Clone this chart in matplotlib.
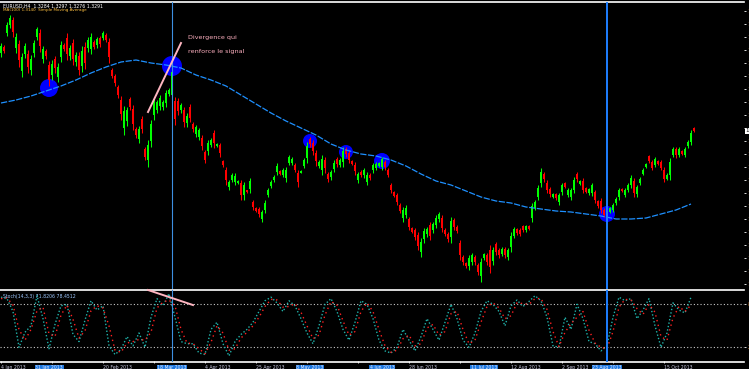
import numpy as np
import matplotlib.pyplot as plt

# candles, price in chart units (higher = higher price)
opens = [247, 253, 267, 275, 280, 252, 256, 229, 246, 246,
         230, 247, 263, 267, 241, 249, 235, 225, 241, 223,
         243, 255, 262, 244, 257, 238, 244, 234, 253, 252,
         251, 258, 255, 262, 262, 265, 258, 230, 224, 213,
         200, 172, 179, 201, 191, 171, 161, 181, 151, 140,
         159, 185, 190, 194, 193, 197, 206, 205, 199, 199,
         190, 190, 177, 193, 176, 166, 163, 162, 148, 149,
         155, 167, 154, 155, 139, 130, 113, 120, 118, 117,
         117, 105, 110, 111, 98, 92, 91, 81, 90, 105,
         114, 120, 128, 129, 125, 122, 137, 137, 135, 127,
         127, 134, 142, 161, 157, 147, 134, 130, 140, 126,
         123, 131, 141, 135, 138, 151, 147, 139, 135, 120,
         128, 125, 118, 125, 130, 132, 134, 133, 138, 130,
         115, 108, 105, 95, 82, 85, 81, 72, 70, 65,
         48, 61, 66, 75, 70, 75, 81, 82, 70, 66,
         63, 80, 73, 57, 43, 37, 34, 38, 43, 35,
         24, 42, 45, 50, 39, 56, 50, 46, 51, 43,
         53, 64, 71, 70, 74, 70, 74, 82, 92, 103,
         117, 126, 117, 111, 103, 106, 98, 108, 117, 105,
         103, 110, 126, 116, 119, 112, 107, 107, 108, 99,
         99, 90, 89, 88, 90, 97, 103, 111, 105, 110,
         115, 119, 106, 117, 126, 133, 144, 138, 135, 139,
         138, 130, 121, 125, 145, 151, 145, 149, 145, 154,
         158, 172]
highs = [257, 255, 278, 285, 283, 267, 260, 247, 257, 250,
         245, 260, 273, 271, 254, 251, 239, 240, 244, 237,
         259, 257, 267, 255, 261, 248, 248, 254, 258, 263,
         267, 260, 263, 264, 269, 267, 262, 232, 226, 215,
         204, 194, 193, 203, 195, 173, 174, 184, 153, 160,
         180, 203, 200, 205, 200, 210, 212, 233, 203, 202,
         197, 193, 187, 196, 178, 175, 172, 165, 150, 160,
         162, 170, 157, 157, 140, 133, 120, 127, 127, 120,
         120, 118, 110, 122, 100, 93, 93, 90, 100, 112,
         120, 125, 137, 130, 132, 133, 145, 143, 137, 130,
         130, 142, 158, 163, 160, 150, 140, 145, 143, 128,
         130, 140, 143, 142, 153, 153, 150, 140, 138, 128,
         130, 132, 128, 127, 137, 138, 138, 143, 140, 132,
         117, 109, 107, 97, 93, 95, 83, 73, 72, 68,
         62, 72, 73, 78, 78, 85, 88, 85, 72, 68,
         83, 82, 75, 60, 45, 38, 45, 47, 45, 37,
         42, 47, 47, 55, 53, 58, 52, 53, 53, 52,
         68, 73, 72, 72, 75, 75, 75, 97, 100, 115,
         132, 128, 120, 113, 107, 107, 107, 117, 118, 112,
         112, 123, 128, 120, 122, 113, 112, 117, 110, 100,
         102, 92, 90, 93, 97, 103, 112, 112, 112, 117,
         125, 122, 115, 123, 132, 137, 145, 140, 143, 140,
         140, 133, 127, 142, 153, 153, 153, 150, 153, 160,
         170, 173]
lows = [243, 247, 264, 272, 263, 247, 233, 223, 242, 227,
        225, 243, 260, 248, 237, 241, 214, 220, 227, 218,
        238, 249, 240, 240, 235, 234, 225, 228, 231, 248,
        246, 251, 252, 253, 260, 258, 237, 222, 214, 202,
        180, 165, 174, 190, 170, 162, 157, 167, 140, 133,
        153, 180, 187, 190, 190, 193, 204, 197, 175, 185,
        187, 173, 173, 178, 168, 163, 160, 150, 137, 145,
        153, 152, 153, 143, 133, 115, 110, 118, 115, 116,
        100, 100, 107, 107, 90, 88, 83, 78, 87, 103,
        112, 118, 125, 125, 123, 118, 135, 135, 128, 113,
        127, 132, 137, 153, 145, 134, 132, 125, 127, 118,
        120, 128, 133, 133, 133, 143, 137, 135, 125, 117,
        123, 122, 115, 120, 127, 130, 133, 130, 130, 123,
        107, 103, 95, 87, 78, 82, 70, 67, 60, 50,
        43, 57, 63, 60, 67, 72, 78, 68, 64, 58,
        57, 70, 67, 40, 35, 32, 30, 35, 35, 25,
        18, 40, 35, 27, 35, 45, 42, 44, 42, 40,
        48, 62, 65, 64, 68, 68, 70, 78, 90, 100,
        113, 118, 107, 103, 102, 100, 95, 105, 112, 103,
        100, 107, 118, 115, 107, 107, 105, 104, 97, 92,
        87, 83, 82, 87, 88, 95, 100, 108, 103, 108,
        112, 103, 103, 115, 125, 132, 137, 130, 133, 135,
        130, 118, 120, 120, 143, 142, 143, 145, 143, 152,
        155, 168]
closes = [254, 249, 275, 282, 268, 263, 240, 243, 254, 233,
          241, 257, 271, 254, 251, 244, 220, 236, 232, 233,
          255, 251, 246, 252, 241, 245, 230, 249, 237, 260,
          263, 253, 261, 256, 267, 260, 243, 224, 217, 205,
          186, 189, 190, 193, 176, 165, 171, 171, 143, 155,
          176, 199, 198, 202, 198, 207, 210, 228, 181, 189,
          195, 178, 184, 182, 171, 173, 170, 154, 140, 157,
          160, 157, 156, 147, 135, 120, 118, 125, 124, 119,
          105, 115, 108, 119, 93, 89, 86, 88, 97, 110,
          118, 123, 134, 126, 130, 130, 143, 141, 130, 118,
          129, 140, 154, 156, 149, 139, 138, 141, 132, 121,
          128, 137, 136, 140, 149, 146, 140, 136, 129, 126,
          125, 130, 125, 122, 135, 136, 137, 141, 133, 125,
          110, 104, 98, 89, 90, 92, 73, 68, 63, 54,
          58, 69, 71, 64, 76, 82, 86, 72, 66, 61,
          79, 73, 69, 45, 38, 34, 42, 45, 38, 28,
          38, 46, 38, 33, 50, 48, 45, 51, 45, 50,
          64, 71, 67, 66, 70, 74, 71, 94, 98, 112,
          128, 121, 110, 106, 106, 102, 105, 115, 113, 110,
          110, 120, 121, 119, 110, 108, 111, 115, 100, 94,
          90, 85, 84, 92, 95, 101, 110, 109, 110, 115,
          122, 107, 113, 121, 130, 136, 139, 132, 141, 136,
          132, 121, 125, 138, 151, 145, 151, 146, 151, 158,
          167, 169]

# moving average, one value every 5 bars
ma_values = [197, 200, 204, 209, 214, 220, 227, 233, 238, 240,
             237, 235, 232, 225, 220, 214, 205, 196, 187, 179,
             172, 165, 156, 150, 146, 144, 140, 134, 126, 119,
             115, 109, 103, 99, 97, 93, 91, 89, 88, 86,
             84, 81, 81, 82, 86, 90, 96]

# stochastic, one value every 2 bars
stoch_main = [90, 88, 70, 20, 41, 50, 92, 60, 18, 52, 78, 80, 38, 28, 58, 85, 72, 78, 22, 10,
              17, 35, 22, 40, 20, 62, 88, 78, 95, 62, 28, 25, 25, 12, 10, 45, 55, 25, 8, 28,
              38, 45, 55, 70, 85, 90, 82, 70, 85, 78, 60, 40, 25, 50, 80, 88, 70, 45, 30, 55,
              85, 80, 60, 30, 15, 12, 20, 45, 30, 15, 35, 60, 45, 30, 55, 80, 60, 30, 20, 40,
              70, 85, 80, 70, 50, 78, 86, 77, 84, 92, 85, 62, 22, 20, 62, 45, 80, 60, 28, 25,
              15, 22, 62, 90, 85, 88, 60, 72, 88, 50, 20, 40, 82, 72, 68, 90]
stoch_signal = [88, 89, 79, 45, 30, 45, 71, 76, 39, 35, 65, 79, 59, 33, 43, 71, 78, 75, 50, 16,
                13, 26, 28, 31, 30, 41, 75, 83, 86, 78, 45, 26, 25, 18, 11, 27, 50, 40, 16, 18,
                33, 41, 50, 62, 77, 87, 86, 76, 77, 81, 69, 50, 32, 37, 65, 84, 79, 57, 37, 42,
                70, 82, 70, 45, 22, 13, 16, 32, 37, 22, 25, 47, 52, 37, 42, 67, 70, 45, 25, 30,
                55, 77, 82, 75, 60, 64, 82, 81, 80, 88, 88, 73, 42, 21, 41, 53, 62, 70, 44, 26,
                20, 18, 42, 76, 87, 86, 74, 66, 80, 69, 35, 30, 61, 77, 70, 79]

# objects drawn on the chart
touch_bars = [16, 57, 103, 115, 127, 202]
touch_prices = [212, 234, 159, 148, 139, 86]
vline_bars = [57, 202]
div_bars = [49, 60]
div_prices = [188, 257]
div_stoch_bars = [49, 64]
div_stoch = [100, 79]
note_lines = ["Divergence qui", "renforce le signal"]

date_labels = ["4 Jan 2013", "29 Jan 2013", "20 Feb 2013", "13 Mar 2013", "4 Apr 2013",
               "25 Apr 2013", "17 May 2013", "7 Jun 2013", "28 Jun 2013", "22 Jul 2013",
               "12 Aug 2013", "2 Sep 2013", "24 Sep 2013", "15 Oct 2013"]
box_bars = [16, 57, 103, 127, 161, 202]
box_labels = ["31 Jan 2013", "18 Mar 2013", "8 May 2013", "4 Jun 2013", "11 Jul 2013", "23 Aug 2013"]

n = len(closes)
idx = np.arange(n)
o = np.array(opens)
c = np.array(closes)
up = c >= o
col = np.where(up, '#00ff00', '#ff0000')

fig = plt.figure(figsize=(7.49, 3.69), dpi=100, facecolor='black')
ax = fig.add_axes([0.0, 80 / 369, 744 / 749, 287 / 369], facecolor='black')
ax2 = fig.add_axes([0.0, 7 / 369, 744 / 749, 72 / 369], facecolor='black')

# objects behind candles
r_px = [9, 10, 7, 7, 8, 8]
ax.scatter(touch_bars, touch_prices, s=[(2 * r * 0.72) ** 2 for r in r_px],
           color='#0000ff', edgecolors='none', zorder=1)

ax.vlines(idx, lows, highs, colors=col, lw=0.75, zorder=2)
ax.bar(idx, np.abs(c - o), bottom=np.minimum(c, o), width=0.6, color=col, lw=0, zorder=2)

ax.plot(np.arange(0, n, 5), ma_values, color='#1e90ff', lw=0.9, ls=(0, (5, 1.2)), zorder=3)

for b in vline_bars:
    lc = '#3d8fe0' if b < 100 else '#1e7fff'
    lw = 0.8 if b < 100 else 1.4
    ax.axvline(b, color=lc, lw=lw, zorder=4)
    ax2.axvline(b, color=lc, lw=lw, zorder=4)

ax.plot(div_bars, div_prices, color='#ffb6c1', lw=1.4, zorder=5)
ax.text(62.3, 263, note_lines[0], color='#ffb0c0', fontsize=4.6, va='center', ha='left')
ax.text(62.3, 249, note_lines[1], color='#ffb0c0', fontsize=4.6, va='center', ha='left')

ax.text(0.004, 0.995, "EURUSD,H4  1.3284 1.3297 1.3276 1.3291", transform=ax.transAxes,
        color='white', fontsize=3.3, va='top', ha='left')
ax.text(0.004, 0.978, "MA(100) 1.3140  Simple Moving Average", transform=ax.transAxes,
        color='#ffc040', fontsize=3.0, va='top', ha='left')

ax.set_xlim(-1 / 3, 743 / 3)
ax.set_ylim(11, 298)
ax.set_xticks([])
ax.yaxis.tick_right()
ticks = np.arange(289, 10, -13)
ax.set_yticks(ticks)
# the current price box takes the place of the nearest level label
ax.set_yticklabels(['' if abs(p - closes[-1]) < 7 else f"{1.2700 + p * 0.0003:.4f}" for p in ticks])
ax.tick_params(axis='y', colors='white', labelcolor='#d08030', labelsize=4, length=1.5, pad=1, width=0.6)
for s in ['left', 'right', 'bottom']:
    ax.spines[s].set_visible(False)
ax.spines['top'].set_color('white')
ax.spines['top'].set_linewidth(1.2)

ax.annotate(f"{1.2700 + closes[-1] * 0.0003:.4f}", xy=(1.0, closes[-1]),
            xycoords=('axes fraction', 'data'), fontsize=4, color='black', va='center', ha='left',
            xytext=(1, 0), textcoords='offset points',
            bbox=dict(boxstyle='square,pad=0.1', fc='white', ec='none'), annotation_clip=False)

# stochastic panel
sx = np.arange(0, n, 2)
ax2.plot(sx, stoch_main, color='#20b2aa', lw=1.0, ls=(0, (1, 1.5)), zorder=3)
ax2.plot(sx, stoch_signal, color='#ff2020', lw=1.0, ls=(0, (1, 2.5)), zorder=3)
for lv in [20, 80]:
    ax2.axhline(lv, color='#c8c8c8', lw=0.8, ls=(0, (1, 2)), zorder=2)
ax2.plot(div_stoch_bars, div_stoch, color='#ffb6c1', lw=1.4, zorder=5, clip_on=False)
ax2.text(0.004, 0.95, "Stoch(14,3,3) 71.8206 78.4512", transform=ax2.transAxes,
         color='#9ec8ff', fontsize=3.3, va='top', ha='left')

ax2.set_xlim(-1 / 3, 743 / 3)
ax2.set_ylim(-0.5, 100)
ax2.yaxis.tick_right()
ax2.set_yticks([20, 80])
ax2.set_yticklabels(["20.00", "80.00"])
ax2.tick_params(axis='y', colors='white', labelcolor='#d08030', labelsize=4, length=1.5, pad=1, width=0.6)

# date ticks every 17 bars; the label is left out where a highlighted object time sits on it
ticks_x = np.arange(0, n, 17)
ax2.set_xticks(ticks_x)
tick_text = []
for t, d in zip(ticks_x, date_labels):
    clash = any(-5 < b - t < 12 for b in box_bars)
    tick_text.append('' if clash else d)
ax2.set_xticklabels(tick_text)
ax2.tick_params(axis='x', colors='white', labelcolor='#c8c8e0', labelsize=3.3, length=2,
                pad=1, width=0.6, direction='inout')
for lbl in ax2.get_xticklabels():
    lbl.set_horizontalalignment('left')
for s in ['left', 'right']:
    ax2.spines[s].set_visible(False)
for s in ['top', 'bottom']:
    ax2.spines[s].set_color('white')
    ax2.spines[s].set_linewidth(1.2)

for b, t in zip(box_bars, box_labels):
    ax2.annotate(t, xy=(b, 0), xycoords=('data', 'axes fraction'), xytext=(0, -4.2),
                 textcoords='offset points', fontsize=3.3, color='#dfe8ff', ha='center', va='center',
                 bbox=dict(boxstyle='square,pad=0.15', fc='#1e78e0', ec='none'), annotation_clip=False)

fig.savefig('out.png', dpi=100, facecolor='black')
